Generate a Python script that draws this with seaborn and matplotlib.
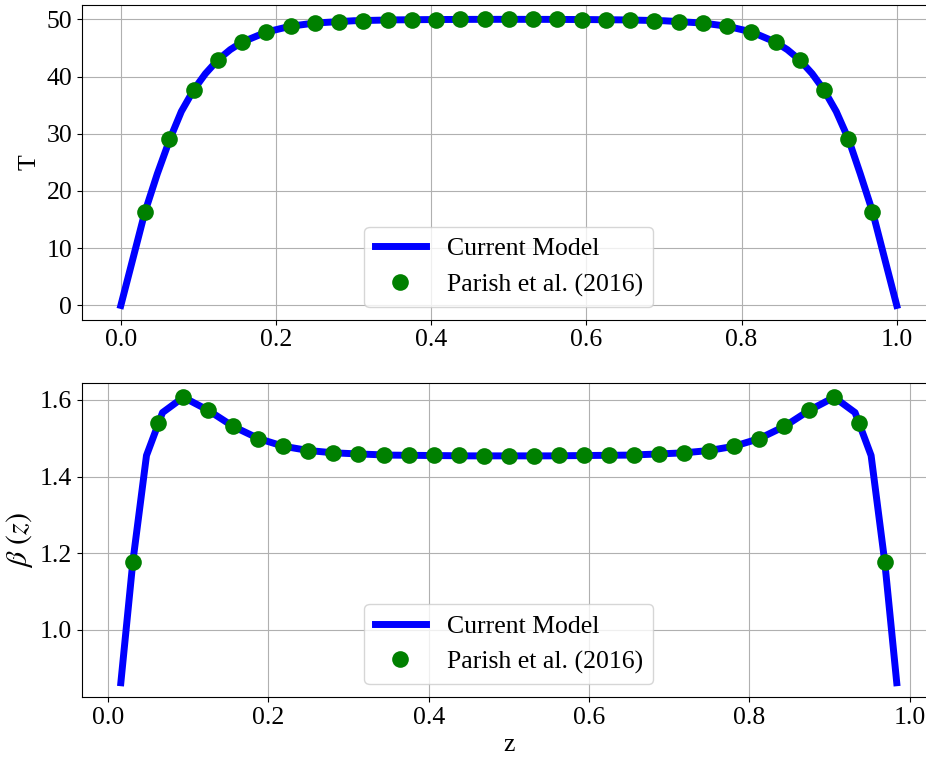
import matplotlib
matplotlib.use("Agg")
import matplotlib.pyplot as plt
import seaborn as sns
import pandas as pd

# ---- data ----
z_pts = [k / 32 for k in range(1, 32)]
T_pts = [16.3, 29.0, 37.7, 42.9, 46.0, 47.8, 48.8, 49.35, 49.6, 49.77, 49.87,
         49.93, 49.96, 49.98, 49.99, 50.0, 49.99, 49.98, 49.96, 49.93, 49.87,
         49.77, 49.6, 49.35, 48.8, 47.8, 46.0, 42.9, 37.7, 29.0, 16.3]
B_pts = [1.178, 1.540, 1.607, 1.573, 1.531, 1.499, 1.479, 1.468, 1.462, 1.459,
         1.457, 1.456, 1.455, 1.455, 1.454, 1.454, 1.454, 1.455, 1.455, 1.456,
         1.457, 1.459, 1.462, 1.468, 1.479, 1.499, 1.531, 1.573, 1.607, 1.540, 1.178]

z_T_line = [0.0, 0.016, 0.031, 0.047, 0.063, 0.078, 0.094, 0.109, 0.125, 0.141,
            0.156, 0.188, 0.219, 0.25, 0.3, 0.35, 0.4, 0.45, 0.5, 0.55, 0.6,
            0.65, 0.7, 0.75, 0.781, 0.813, 0.844, 0.859, 0.875, 0.891, 0.906,
            0.922, 0.938, 0.953, 0.969, 0.984, 1.0]
T_line = [0.0, 8.4, 16.3, 23.0, 29.0, 33.9, 37.7, 40.5, 42.9, 44.7, 46.0, 47.8,
          48.8, 49.35, 49.75, 49.9, 49.96, 49.99, 50.0, 49.99, 49.96, 49.9,
          49.75, 49.35, 48.8, 47.8, 46.0, 44.7, 42.9, 40.5, 37.7, 33.9, 29.0,
          23.0, 16.3, 8.4, 0.0]

z_B_line = [0.016, 0.031, 0.048, 0.068, 0.094, 0.125, 0.156, 0.188, 0.219, 0.25,
            0.281, 0.3125, 0.35, 0.4, 0.45, 0.5, 0.55, 0.6, 0.65, 0.6875, 0.719,
            0.75, 0.781, 0.8125, 0.844, 0.875, 0.906, 0.932, 0.952, 0.969, 0.984]
B_line = [0.862, 1.178, 1.455, 1.567, 1.607, 1.573, 1.531, 1.499, 1.479, 1.468,
          1.462, 1.459, 1.456, 1.455, 1.454, 1.454, 1.454, 1.455, 1.456, 1.459,
          1.462, 1.468, 1.479, 1.499, 1.531, 1.573, 1.607, 1.567, 1.455, 1.178, 0.862]

label_line = "Current Model"
label_pts = "Parish et al. (2016)"

plt.rcParams['font.family'] = ['Liberation Serif', 'DejaVu Serif']
plt.rcParams['mathtext.fontset'] = 'stix'

FS = 18.5

fig = plt.figure(figsize=(9.26, 7.6), dpi=100)
ax1 = fig.add_axes([0.0886, 0.5793, 0.9217, 0.4141])
ax2 = fig.add_axes([0.0886, 0.0829, 0.9217, 0.4132])

dfT = pd.DataFrame({"z": z_T_line, "T": T_line})
dfTp = pd.DataFrame({"z": z_pts, "T": T_pts})
dfB = pd.DataFrame({"z": z_B_line, "B": B_line})
dfBp = pd.DataFrame({"z": z_pts, "B": B_pts})

for ax, dl, dp, ycol in [(ax1, dfT, dfTp, "T"), (ax2, dfB, dfBp, "B")]:
    sns.lineplot(data=dl, x="z", y=ycol, ax=ax, color="#0000ff", lw=5,
                 label=label_line, zorder=2)
    sns.lineplot(data=dp, x="z", y=ycol, ax=ax, color="#008000", linestyle="",
                 marker="o", markersize=12, markeredgewidth=0,
                 label=label_pts, zorder=3)
    ax.grid(True, color="#b0b0b0", lw=0.8)
    ax.set_axisbelow(True)
    ax.tick_params(labelsize=FS)
    ax.legend(loc="lower center", fontsize=FS)
    ax.set_xticks([0.0, 0.2, 0.4, 0.6, 0.8, 1.0])
    ax.spines['right'].set_visible(False)

ax1.set_yticks([0, 10, 20, 30, 40, 50])
ax2.set_yticks([1.0, 1.2, 1.4, 1.6])
ax1.set_xlabel("")
ax1.set_ylabel("T", fontsize=FS)
ax2.set_ylabel(r"$\beta\ (z)$", fontsize=21.5)
ax2.set_xlabel("z", fontsize=FS)

fig.savefig("out.png", dpi=100)
